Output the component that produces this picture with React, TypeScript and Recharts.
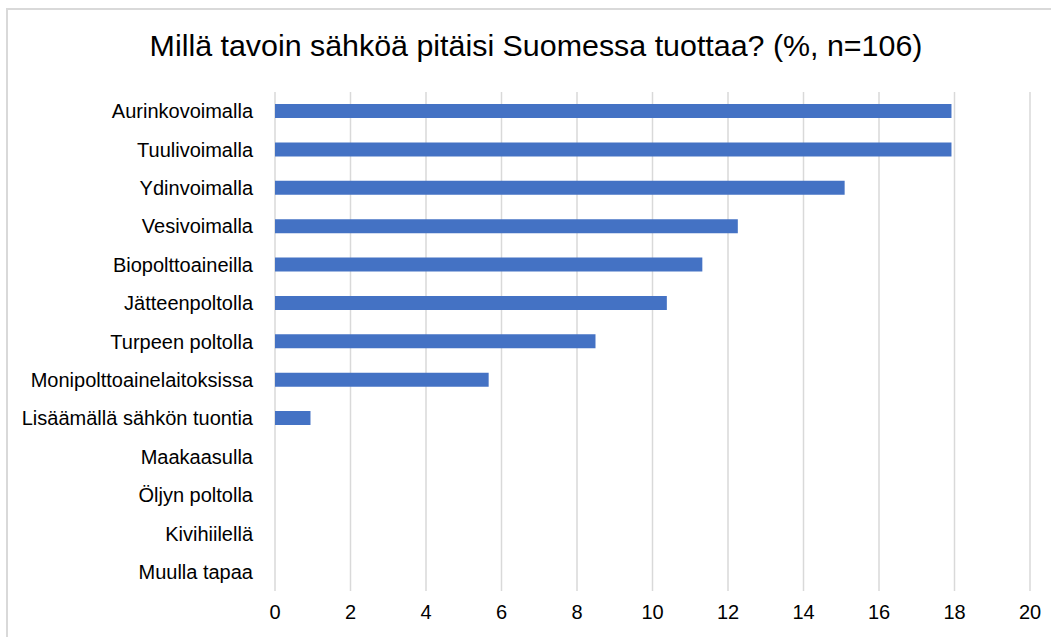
import React from "react";
import { BarChart, Bar, XAxis, YAxis, CartesianGrid } from "recharts";

const categories = [
  "Aurinkovoimalla",
  "Tuulivoimalla",
  "Ydinvoimalla",
  "Vesivoimalla",
  "Biopolttoaineilla",
  "Jätteenpoltolla",
  "Turpeen poltolla",
  "Monipolttoainelaitoksissa",
  "Lisäämällä sähkön tuontia",
  "Maakaasulla",
  "Öljyn poltolla",
  "Kivihiilellä",
  "Muulla tapaa",
];
const values = [17.92, 17.92, 15.09, 12.26, 11.32, 10.38, 8.49, 5.66, 0.94, 0, 0, 0, 0];
const xTicks = [0, 2, 4, 6, 8, 10, 12, 14, 16, 18, 20];
const title = "Millä tavoin sähköä pitäisi Suomessa tuottaa? (%, n=106)";

const data = categories.map((name, i) => ({ name, value: values[i] }));

const FONT = "'Liberation Sans', Arial, sans-serif";

export default function App() {
  return (
    <div
      style={{
        position: "absolute",
        left: 0,
        top: 0,
        width: 1051,
        height: 637,
        overflow: "hidden",
        background: "#fff",
        fontFamily: FONT,
      }}
    >
      <div
        style={{
          position: "absolute",
          left: 6,
          top: 8,
          width: 1200,
          height: 800,
          border: "2px solid #d9d9d9",
        }}
      />
      <div
        style={{
          position: "absolute",
          left: 0,
          width: 1072,
          top: 28,
          textAlign: "center",
          fontSize: 30.4,
          color: "#000",
          whiteSpace: "nowrap",
        }}
      >
        {title}
      </div>
      <div style={{ position: "absolute", left: 0, top: 0 }}>
        <BarChart
          width={1051}
          height={637}
          data={data}
          layout="vertical"
          margin={{ top: 92, right: 21, bottom: 16, left: 0 }}
          barCategoryGap={0}
        >
          <CartesianGrid horizontal={false} stroke="#d9d9d9" strokeWidth={1.5} />
          <XAxis
            type="number"
            domain={[0, 20]}
            ticks={xTicks}
            interval={0}
            axisLine={false}
            tickLine={false}
            tickSize={0}
            tickMargin={14}
            height={30}
            tick={{ fontSize: 20, fill: "#000", fontFamily: FONT }}
          />
          <YAxis
            type="category"
            dataKey="name"
            width={275}
            axisLine={false}
            tickLine={false}
            tickSize={0}
            tickMargin={22}
            interval={0}
            tick={{ fontSize: 20, fill: "#000", fontFamily: FONT }}
          />
          <Bar dataKey="value" fill="#4472C4" barSize={14} isAnimationActive={false} />
        </BarChart>
      </div>
    </div>
  );
}
